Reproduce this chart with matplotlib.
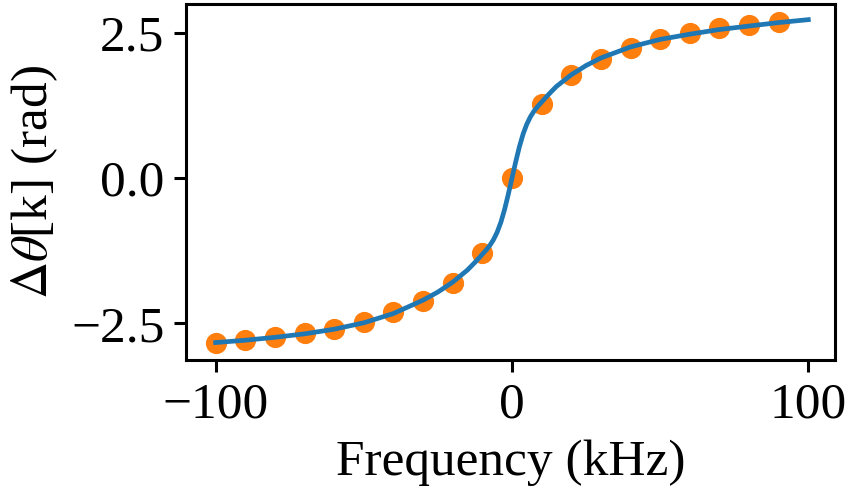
import matplotlib
matplotlib.use('Agg')
import matplotlib.pyplot as plt

# measured points (kHz, rad)
freq_meas = [-100, -90, -80, -70, -60, -50, -40, -30, -20, -10,
             0, 10, 20, 30, 40, 50, 60, 70, 80, 90]
dtheta_meas = [-2.83, -2.79, -2.74, -2.67, -2.59, -2.47, -2.31, -2.11, -1.80, -1.28,
               0.0, 1.27, 1.77, 2.05, 2.25, 2.39, 2.50, 2.58, 2.64, 2.69]

# fitted curve
freq_fit = [-100, -90, -80, -70, -60, -50, -40, -30, -25, -20, -15, -12.5, -10,
            -8.75, -7.5, -6.25, -5, -3.75, -2.5, -1.25, 0, 1.25, 2.5, 3.75, 5,
            6.25, 7.5, 8.75, 10, 12.5, 15, 20, 25, 30, 40, 50, 60, 70, 80, 90, 100]
dtheta_fit = [-2.83, -2.79, -2.74, -2.68, -2.60, -2.49, -2.33, -2.10, -1.96, -1.79,
              -1.58, -1.45, -1.31, -1.24, -1.16, -1.06, -0.93, -0.76, -0.54, -0.28,
              0.0, 0.28, 0.54, 0.76, 0.93, 1.06, 1.16, 1.24, 1.31, 1.45, 1.58,
              1.78, 1.94, 2.07, 2.26, 2.39, 2.48, 2.56, 2.62, 2.68, 2.73]

plt.rcParams['font.family'] = ['Liberation Serif', 'DejaVu Serif']
plt.rcParams['mathtext.fontset'] = 'stix'
plt.rcParams['font.size'] = 18.5
plt.rcParams['axes.linewidth'] = 1.1
plt.rcParams['xtick.major.width'] = 1.1
plt.rcParams['ytick.major.width'] = 1.1

fig = plt.figure(figsize=(4.235, 2.485), dpi=200)
ax = fig.add_axes([0.2196, 0.2757, 0.7662, 0.7163])

ax.scatter(freq_meas, dtheta_meas, color='tab:orange', s=44, zorder=2)
ax.plot(freq_fit, dtheta_fit, color='tab:blue', lw=1.7, zorder=3)

ax.set_xlim(-110, 109)
ax.set_ylim(-3.13, 3.0)
ax.set_xticks([-100, 0, 100])
ax.set_yticks([-2.5, 0.0, 2.5])
ax.tick_params(length=4.3)
ax.set_xlabel('Frequency (kHz)')
ax.set_ylabel(r'$\Delta\theta$[k] (rad)')

fig.savefig('out.png', dpi=200)
